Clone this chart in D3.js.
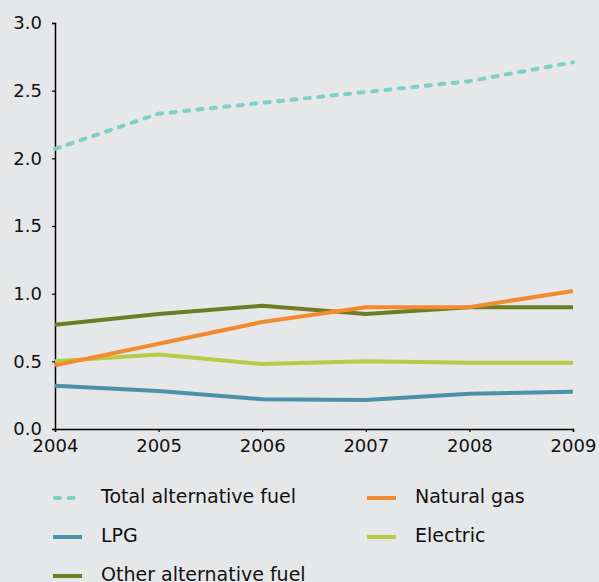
<!DOCTYPE html>
<html><head><meta charset="utf-8">
<script src="https://cdn.jsdelivr.net/npm/d3@7"></script>
<style>html,body{margin:0;padding:0;background:#e6e7e8;}svg{display:block;}</style>
</head><body>
<script>
const years = [2004, 2005, 2006, 2007, 2008, 2009];
const totalAlt = [2.07, 2.33, 2.41, 2.49, 2.57, 2.71];
const naturalGas = [0.47, 0.63, 0.79, 0.90, 0.90, 1.02];
const lpg = [0.32, 0.28, 0.22, 0.215, 0.26, 0.275];
const electric = [0.50, 0.55, 0.48, 0.50, 0.49, 0.49];
const otherAlt = [0.77, 0.85, 0.91, 0.85, 0.90, 0.90];
const yTicks = [0, 0.5, 1.0, 1.5, 2.0, 2.5, 3.0];

const series = [
  {name: "LPG", values: lpg, color: "#4b92a9", dash: null},
  {name: "Electric", values: electric, color: "#b6cc47", dash: null},
  {name: "Other alternative fuel", values: otherAlt, color: "#6c7d24", dash: null},
  {name: "Natural gas", values: naturalGas, color: "#f28b30", dash: null},
  {name: "Total alternative fuel", values: totalAlt, color: "#7dcfca", dash: "5,8.5"}
];
const legendOrder = ["Total alternative fuel", "Natural gas", "LPG", "Electric", "Other alternative fuel"];

const W = 599, H = 582;
const svg = d3.select("body").append("svg").attr("width", W).attr("height", H);
svg.append("rect").attr("width", W).attr("height", H).attr("fill", "#e6e7e8");

const x = d3.scaleLinear().domain([2004, 2009]).range([55, 573]);
const y = d3.scaleLinear().domain([0, 3]).range([429, 23]);
const font = "DejaVu Sans, Verdana, sans-serif";

const yAxis = svg.append("g").attr("transform", "translate(55,0)")
  .call(d3.axisLeft(y).tickValues(yTicks).tickFormat(d3.format(".1f")).tickSize(3).tickPadding(10));
const xAxis = svg.append("g").attr("transform", "translate(0,429)")
  .call(d3.axisBottom(x).tickValues(years).tickFormat(d3.format("d")).tickSize(3).tickPadding(7));
[yAxis, xAxis].forEach(g => {
  g.select(".domain").attr("stroke", "#000").attr("stroke-width", 1.5);
  g.selectAll(".tick line").attr("stroke", "#000").attr("stroke-width", 1.2);
  g.selectAll("text").attr("font-family", font).attr("font-size", 18).attr("fill", "#111");
});

const line = d3.line().x((d, i) => x(years[i])).y(d => y(d));
series.forEach(s => {
  svg.append("path").datum(s.values).attr("d", line)
    .attr("fill", "none").attr("stroke", s.color).attr("stroke-width", 4)
    .attr("stroke-linecap", s.dash ? "round" : "butt")
    .attr("stroke-dasharray", s.dash);
});

const legendPos = [[53, 498], [367, 498], [53, 537], [367, 537], [53, 576]];
legendOrder.forEach((n, i) => {
  const s = series.find(d => d.name === n);
  const [lx, ly] = legendPos[i];
  const g = svg.append("g").attr("transform", `translate(${lx},${ly})`);
  if (s.dash) {
    g.append("line").attr("x1", 2).attr("x2", 22).attr("y1", 0).attr("y2", 0)
      .attr("stroke", s.color).attr("stroke-width", 4).attr("stroke-linecap", "round").attr("stroke-dasharray", "5,8.5");
  } else {
    g.append("line").attr("x1", 0).attr("x2", 29).attr("y1", 0).attr("y2", 0)
      .attr("stroke", s.color).attr("stroke-width", 4);
  }
  g.append("text").attr("x", i % 2 === 0 ? 48 : 48).attr("y", 5)
    .attr("font-family", font).attr("font-size", 19).attr("fill", "#111").text(n);
});
</script>
</body></html>
